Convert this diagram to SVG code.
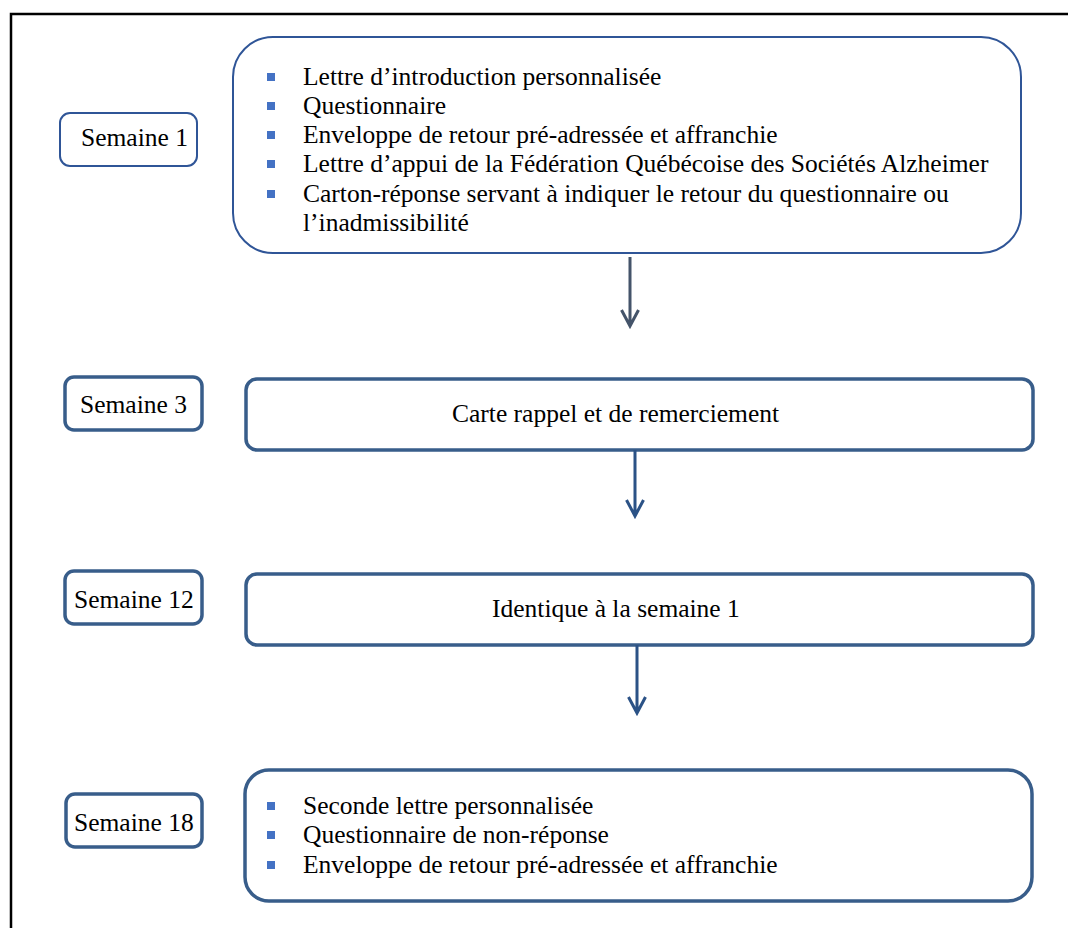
<svg xmlns="http://www.w3.org/2000/svg" width="1068" height="928" viewBox="0 0 1068 928">
<defs>
<style>
.t{font-family:"Liberation Serif","Times New Roman",serif;font-size:25.5px;fill:#000}
.thin{fill:#fff;stroke:#2f5597;stroke-width:2}
.thick{fill:#fff;stroke:#385d8a;stroke-width:3.5}
.b{fill:#4472c4}
.ar{fill:none;stroke-width:3;stroke-linecap:butt;stroke-linejoin:miter}
</style>
</defs>
<rect width="1068" height="928" fill="#fff"/>
<path d="M11 928 V14 H1068" fill="none" stroke="#000" stroke-width="2.5"/>
<g id="semaine1"><rect class="thin" x="60" y="113" width="137" height="53" rx="10"/><text class="t" x="81" y="146">Semaine 1</text></g>
<g id="box1"><rect class="thin" x="233" y="37" width="788" height="216" rx="40"/>
<rect class="b" x="267" y="73" width="8" height="8"/><rect class="b" x="267" y="102" width="8" height="8"/><rect class="b" x="267" y="131" width="8" height="8"/><rect class="b" x="267" y="160" width="8" height="8"/><rect class="b" x="267" y="190" width="8" height="8"/>
<text class="t" x="303" y="85">Lettre d’introduction personnalisée</text>
<text class="t" x="303" y="114">Questionnaire</text>
<text class="t" x="303" y="143">Enveloppe de retour pré-adressée et affranchie</text>
<text class="t" x="303" y="172">Lettre d’appui de la Fédération Québécoise des Sociétés Alzheimer</text>
<text class="t" x="303" y="202">Carton-réponse servant à indiquer le retour du questionnaire ou</text>
<text class="t" x="303" y="231">l’inadmissibilité</text>
</g>
<g id="semaine3"><rect class="thick" x="65" y="377" width="137" height="53" rx="9"/><text class="t" x="80" y="413">Semaine 3</text></g>
<g id="box2"><rect class="thick" x="246" y="379" width="787" height="71" rx="11"/><text class="t" x="452" y="422">Carte rappel et de remerciement</text></g>
<g id="semaine12"><rect class="thick" x="65" y="571" width="137" height="53" rx="9"/><text class="t" x="74" y="608">Semaine 12</text></g>
<g id="box3"><rect class="thick" x="246" y="574" width="787" height="71" rx="11"/><text class="t" x="492" y="617">Identique à la semaine 1</text></g>
<g id="semaine18"><rect class="thick" x="66" y="794" width="136" height="53" rx="9"/><text class="t" x="74" y="831">Semaine 18</text></g>
<g id="box4"><rect class="thick" x="245" y="770" width="787" height="131" rx="24"/>
<rect class="b" x="267" y="802" width="8" height="8"/><rect class="b" x="267" y="831" width="8" height="8"/><rect class="b" x="267" y="861" width="8" height="8"/>
<text class="t" x="303" y="814">Seconde lettre personnalisée</text>
<text class="t" x="303" y="843">Questionnaire de non-réponse</text>
<text class="t" x="303" y="873">Enveloppe de retour pré-adressée et affranchie</text>
</g>
<g id="connectors">
<path class="ar" stroke="#44546a" d="M630 257 V326 M621.5 310 L630 326 L638.5 310"/>
<path class="ar" stroke="#2b5286" d="M635 450 V516 M626.5 500 L635 516 L643.5 500"/>
<path class="ar" stroke="#2b5286" d="M637 645 V713 M628.5 697 L637 713 L645.5 697"/>
</g>
</svg>
